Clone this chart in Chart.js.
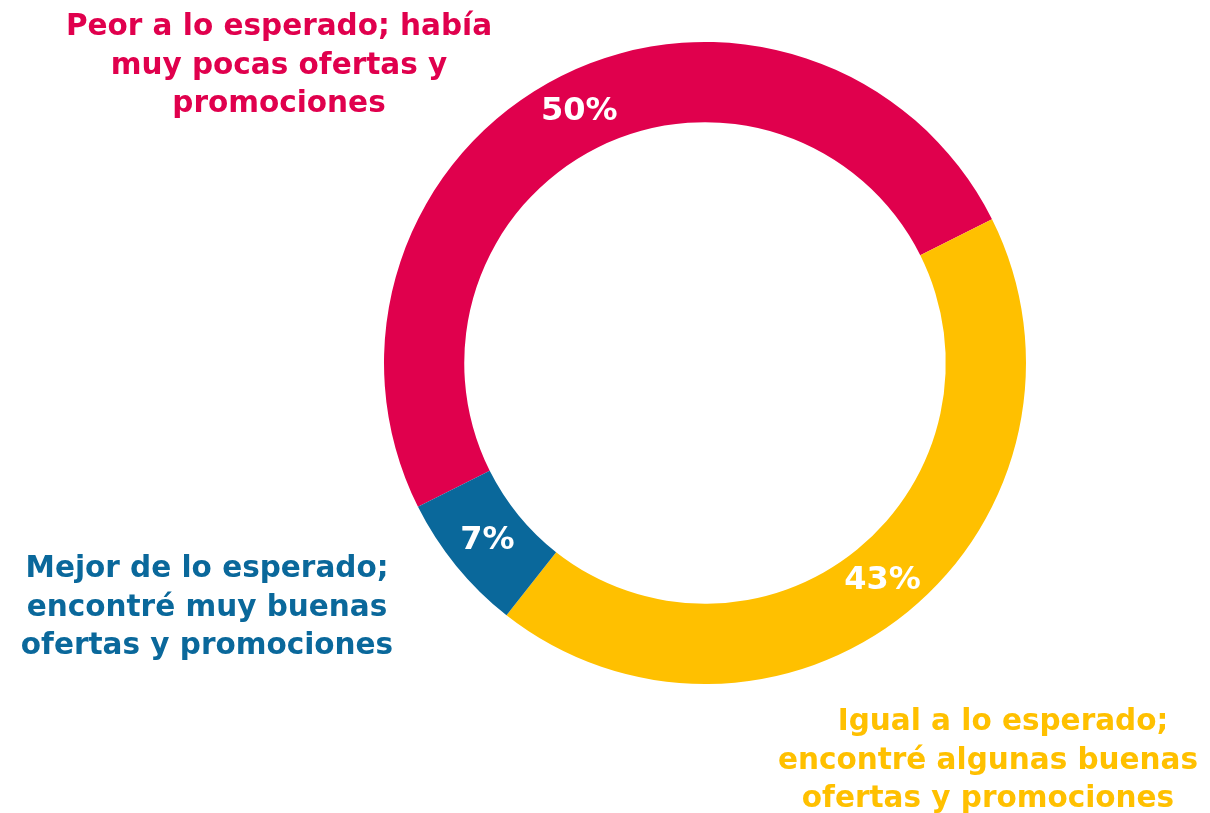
<!DOCTYPE html>
<html>
<head>
<meta charset="utf-8">
<script src="https://cdn.jsdelivr.net/npm/chart.js@4"></script>
<style>
  html, body { margin: 0; padding: 0; background: #fff; }
  #wrap { width: 1210px; height: 813px; position: relative; }
</style>
</head>
<body>
<div id="wrap"><canvas id="chart"></canvas></div>
<script>
// datos
const categories = [
  'Peor a lo esperado; había muy pocas ofertas y promociones',
  'Igual a lo esperado; encontré algunas buenas ofertas y promociones',
  'Mejor de lo esperado; encontré muy buenas ofertas y promociones'
];
const labelLines = [
  ['Peor a lo esperado; había', 'muy pocas ofertas y', 'promociones'],
  ['Igual a lo esperado;', 'encontré algunas buenas', 'ofertas y promociones'],
  ['Mejor de lo esperado;', 'encontré muy buenas', 'ofertas y promociones']
];
const values = [50, 43, 7];
const colors = ['#E0004D', '#FFC000', '#0A689B'];

// position des textes extérieurs (centre x, ligne de base de la 1re ligne, décalage x par ligne)
const outerLabelPos = [
  { x: 279, y: 35, dx: [0, 0, 0] },
  { x: 988, y: 730, dx: [15, 0, 0] },
  { x: 207, y: 577, dx: [0, 0, 0] }
];

const sliceLabels = {
  id: 'sliceLabels',
  afterDraw(chart) {
    const ctx = chart.ctx;
    const meta = chart.getDatasetMeta(0);
    ctx.save();
    // pourcentages dans l'anneau
    ctx.fillStyle = '#ffffff';
    ctx.font = 'bold 32px "DejaVu Sans"';
    ctx.textAlign = 'center';
    ctx.textBaseline = 'middle';
    meta.data.forEach((arc, i) => {
      const p = arc.getCenterPoint();
      ctx.fillText(values[i] + '%', p.x, p.y);
    });
    // libellés extérieurs
    ctx.font = 'bold 29.5px "DejaVu Sans"';
    ctx.textBaseline = 'alphabetic';
    labelLines.forEach((lines, i) => {
      const pos = outerLabelPos[i];
      ctx.fillStyle = colors[i];
      lines.forEach((ln, j) => {
        ctx.fillText(ln, pos.x + pos.dx[j], pos.y + j * 38.5);
      });
    });
    ctx.restore();
  }
};

new Chart(document.getElementById('chart'), {
  type: 'doughnut',
  data: {
    labels: categories,
    datasets: [{
      data: values,
      backgroundColor: colors,
      borderWidth: 0,
      hoverOffset: 0
    }]
  },
  options: {
    responsive: true,
    maintainAspectRatio: false,
    animation: false,
    cutout: '75%',
    rotation: -116.6,
    layout: { padding: { top: 42, bottom: 129, left: 384, right: 184 } },
    plugins: {
      legend: { display: false },
      tooltip: { enabled: false }
    }
  },
  plugins: [sliceLabels]
});
</script>
</body>
</html>
